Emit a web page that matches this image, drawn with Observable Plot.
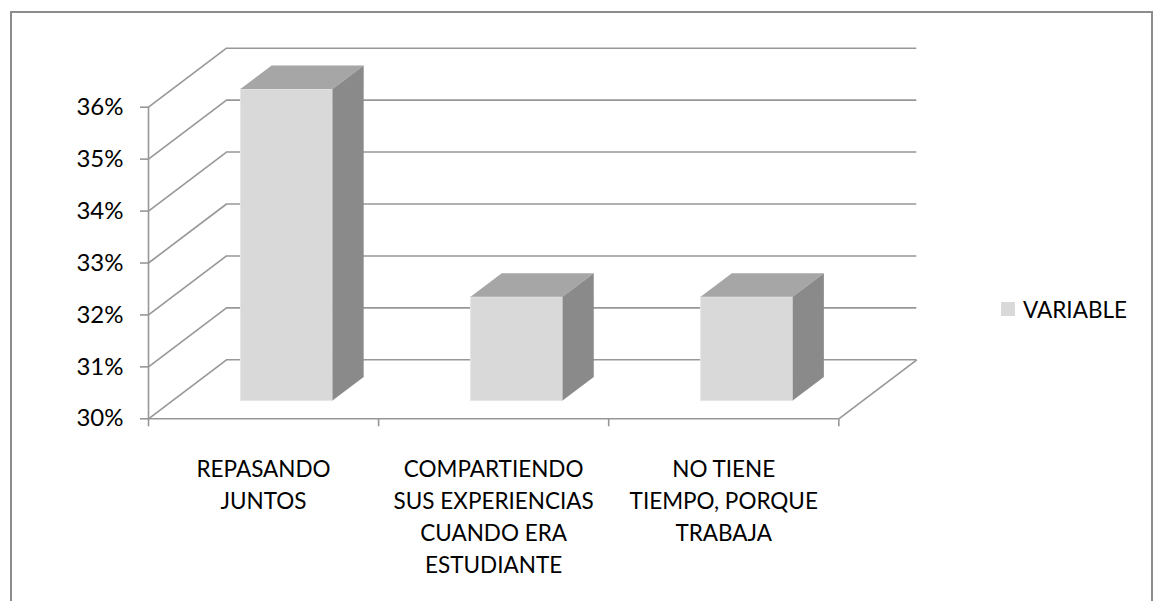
<!DOCTYPE html>
<html><head><meta charset="utf-8">
<script src="https://cdn.jsdelivr.net/npm/d3@7"></script>
<script src="https://cdn.jsdelivr.net/npm/@observablehq/plot@0.6"></script>
<style>
html,body{margin:0;padding:0;background:#fff;overflow:hidden;}
#wrap{position:relative;width:1154px;height:601px;font-family:Lato,"Open Sans",sans-serif;}
#frame{position:absolute;left:10px;top:11px;width:1143px;height:700px;border:2px solid #8c8c8c;box-sizing:border-box;}
#chart{position:absolute;left:0;top:0;}
#legend{position:absolute;left:1001px;top:296px;display:flex;align-items:center;font-size:22.5px;color:#000;height:26px;}
#legend .sw{display:inline-block;width:14px;height:14px;background:#d9d9d9;margin-right:8px;}
</style>
</head><body>
<div id="wrap"><div id="frame"></div><div id="chart"></div><div id="legend"></div></div>
<script>
const categories = ["REPASANDO JUNTOS", "COMPARTIENDO SUS EXPERIENCIAS CUANDO ERA ESTUDIANTE", "NO TIENE TIEMPO, PORQUE TRABAJA"];
const tickLabels = ["REPASANDO\nJUNTOS", "COMPARTIENDO\nSUS EXPERIENCIAS\nCUANDO ERA\nESTUDIANTE", "NO TIENE\nTIEMPO, PORQUE\nTRABAJA"];
const values = [36, 32, 32];
const yTicks = [30, 31, 32, 33, 34, 35, 36];
const seriesName = "VARIABLE";

// 3D projection (depth offsets expressed in scale units)
const DX = 0.339, DY = 1.136;
const n = categories.length;
const base = yTicks[0];
const d0 = 0.3, d1 = 0.7, bw = 0.4;
const bars = values.map((v, i) => ({i, v}));
const topPts = bars.flatMap(b => [d0, d1].map(d => ({i: b.i, y: b.v + d * DY, x1: b.i + 0.5 - bw / 2 + d * DX, x2: b.i + 0.5 + bw / 2 + d * DX})));
const sidePts = bars.flatMap(b => [d0, d1].map(d => ({i: b.i, x: b.i + 0.5 + bw / 2 + d * DX, y1: base + d * DY, y2: b.v + d * DY})));

const grid = {stroke: "#979797", strokeWidth: 1.6};
const txt = "#000";

const chart = Plot.plot({
  width: 1154, height: 601,
  marginLeft: 148, marginRight: 237.7, marginTop: 47.7, marginBottom: 182.7,
  style: {fontFamily: 'Lato, "Open Sans", sans-serif', background: "transparent", overflow: "visible"},
  x: {domain: [0, n + DX]},
  y: {domain: [base, yTicks[yTicks.length - 1] + DY]},
  marks: [
    Plot.ruleY(yTicks, {y: v => v + DY, x1: DX, x2: n + DX, ...grid}),
    Plot.link(yTicks, {x1: 0, y1: v => v, x2: DX, y2: v => v + DY, ...grid}),
    Plot.ruleY([base], {x1: 0, x2: n, ...grid}),
    Plot.link([base], {x1: n, y1: v => v, x2: n + DX, y2: v => v + DY, ...grid}),
    Plot.ruleX([0], {y1: base, y2: yTicks[yTicks.length - 1], ...grid}),
    Plot.rect(bars, {x1: b => b.i + 0.5 - bw / 2 + d0 * DX, x2: b => b.i + 0.5 + bw / 2 + d0 * DX, y1: base + d0 * DY, y2: b => b.v + d0 * DY, fill: "#d9d9d9", stroke: "#e6e6e6", strokeWidth: 1}),
    Plot.areaX(topPts, {y: "y", x1: "x1", x2: "x2", z: "i", fill: "#a6a6a6"}),
    Plot.areaY(sidePts, {x: "x", y1: "y1", y2: "y2", z: "i", fill: "#8a8a8a"}),
    Plot.axisY({ticks: yTicks, tickSize: 8, tickPadding: 17, tickFormat: d => d + "%", label: null, stroke: "#979797", strokeWidth: 1.6, fill: txt, fontSize: 24}),
    Plot.axisX({ticks: d3.range(n + 1), tickSize: 8, tickFormat: () => "", label: null, stroke: "#979797", strokeWidth: 1.6}),
    Plot.text(tickLabels, {x: (d, i) => i + 0.5, y: base, text: d => d, lineAnchor: "top", dy: 35.7, fontSize: 22.5, lineHeight: 1.42, fill: txt, textAnchor: "middle"})
  ]
});
document.getElementById("chart").appendChild(chart);
document.getElementById("legend").innerHTML = `<span class="sw"></span><span>${seriesName}</span>`;
</script>
</body></html>
